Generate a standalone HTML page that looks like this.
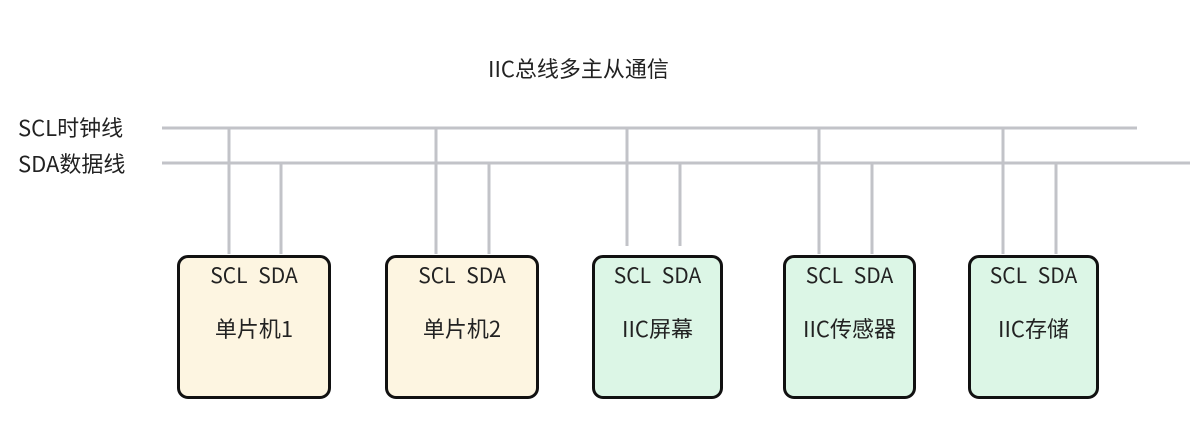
<!DOCTYPE html>
<html><head><meta charset="utf-8"><style>
body{margin:0;width:1199px;height:424px;background:#fff;position:relative;overflow:hidden;font-family:"Noto Sans CJK SC","Liberation Sans",sans-serif;color:#222}
.t{position:absolute;white-space:nowrap;line-height:1}
.box{position:absolute;top:255px;height:138px;border:3px solid #111;border-radius:11px;box-sizing:content-box}
.y{background:#fdf5e1}.g{background:#dcf6e6}
.pins{position:absolute;top:5px;width:100%;text-align:center;font-size:21px;word-spacing:6px;line-height:1.2}
.lab{position:absolute;top:57px;width:100%;text-align:center;font-size:22px;line-height:1.2}
</style></head><body>
<svg width="1199" height="424" style="position:absolute;left:0;top:0">
<g stroke="#c2c3c8" stroke-width="3">
<line x1="162" y1="128" x2="1137" y2="128"/>
<line x1="162" y1="163" x2="1190" y2="163"/>
<line x1="229" y1="128" x2="229" y2="254"/><line x1="281" y1="163" x2="281" y2="254"/>
<line x1="436" y1="128" x2="436" y2="254"/><line x1="489" y1="163" x2="489" y2="254"/>
<line x1="627" y1="128" x2="627" y2="246"/><line x1="680" y1="163" x2="680" y2="246"/>
<line x1="819" y1="128" x2="819" y2="254"/><line x1="872" y1="163" x2="872" y2="254"/>
<line x1="1003" y1="128" x2="1003" y2="254"/><line x1="1056" y1="163" x2="1056" y2="254"/>
</g></svg>
<div class="t" style="left:488px;top:57px;font-size:22px">IIC总线多主从通信</div>
<div class="t" style="left:18px;top:116px;font-size:22px">SCL时钟线</div>
<div class="t" style="left:18px;top:152px;font-size:22px">SDA数据线</div>
<div class="box y" style="left:177px;width:148px"><div class="pins">SCL SDA</div><div class="lab">单片机1</div></div>
<div class="box y" style="left:385px;width:148px"><div class="pins">SCL SDA</div><div class="lab">单片机2</div></div>
<div class="box g" style="left:592px;width:125px"><div class="pins">SCL SDA</div><div class="lab">IIC屏幕</div></div>
<div class="box g" style="left:783px;width:127px"><div class="pins">SCL SDA</div><div class="lab">IIC传感器</div></div>
<div class="box g" style="left:968px;width:125px"><div class="pins">SCL SDA</div><div class="lab">IIC存储</div></div>
</body></html>
